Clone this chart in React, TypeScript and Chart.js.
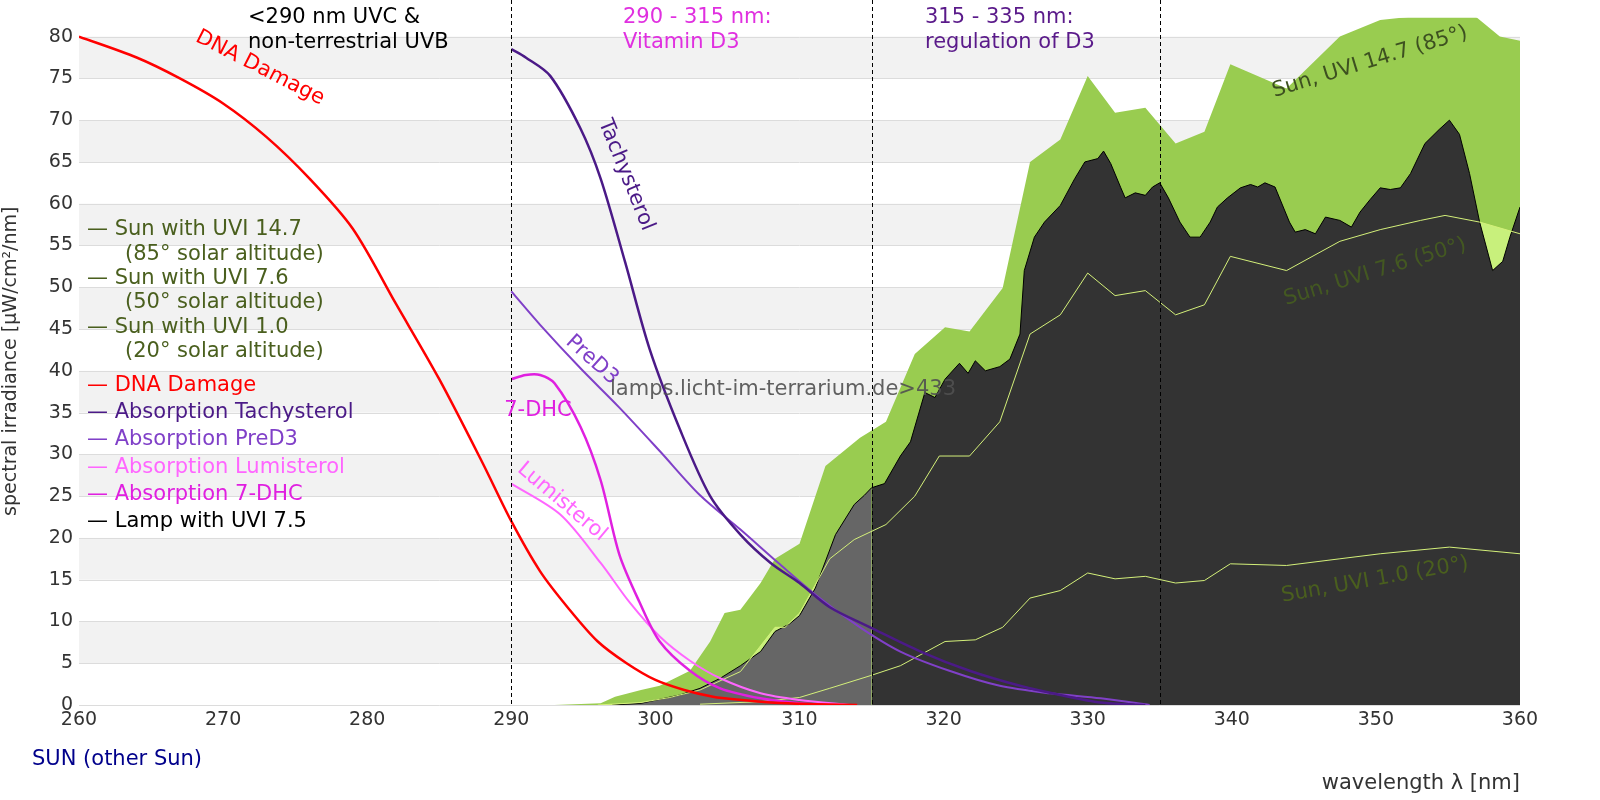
import React, { useEffect, useRef } from "react";
import { Chart, registerables } from "chart.js";
Chart.register(...registerables);

const dnaX = [260,264,267,270,273,276,279,282,285,288,290,292,294,296,298,300,302,304,306,308,310,312,314];
const dnaY = [80,77.5,75,72,68,63,57,48,39,29,22,16,11.5,7.6,5,3,1.8,1,0.6,0.3,0.15,0.05,0];
const tachX = [290,291,292.7,294.8,296.2,297.9,299.6,301.7,303.8,305.9,308,310,312.1,314.9,318.4,321.8,325.3,328.1,330.9,334];
const tachY = [78.5,77.5,75.3,69,63,53,42.6,33,25,20.4,17,14.6,11.7,9.3,6.4,4.1,2.3,1.2,0.3,0];
const preX = [290,292,294.8,297.5,300.3,303.1,305.9,308.6,311.4,314.2,317,320.4,323.9,327.4,330.9,334.3];
const preY = [49.5,45.5,40.3,35.6,30.4,25.1,21,16.9,12.8,9.3,6.4,4.1,2.3,1.4,0.8,0];
const dhcX = [290,291,292,293,294.8,296.2,297.5,298.9,300.3,302.4,304.5,307.3,310,311.5];
const dhcY = [39,39.5,39.5,38.5,33.3,26.9,18,12.3,7.6,4.1,2,0.8,0.2,0];
const lumiX = [290,293.4,296.2,298.2,300.3,302.4,304.5,307.3,310,313.5];
const lumiY = [26.5,22.8,17,12.3,8.2,5.3,3.2,1.4,0.6,0];
const sun147X = [293,296.2,297.2,299,300.3,302.4,303.8,304.8,305.9,307.3,308.3,310,311.8,314.2,316,318,320.1,321.8,324.1,326,328.1,330,331.9,334,336.1,338.1,339.9,343.8,347.5,350.3,353.1,355.8,358.6,360];
const sun147Y = [0,0.2,1,1.8,2.3,4.1,7.6,11,11.4,14.6,17.5,19.3,28.6,32,33.9,42,45.2,44.7,49.9,65,67.7,75.3,70.9,71.5,67.2,68.6,76.7,73.8,80,82,82.5,84,80,79.5];
const sun76X = [296,299,301,303.1,305.9,308.3,309,310,312.1,313.8,316,318,319.7,321.8,323.9,326,328.1,330,331.9,334,336.1,338.1,339.9,343.8,347.5,350.3,353.1,354.8,357.2,360];
const sun76Y = [0,0.3,0.9,1.8,4,9.3,9.3,11,17.5,19.8,21.6,25,29.8,29.8,33.9,44.4,46.7,51.7,49,49.6,46.7,47.9,53.7,52,55.5,56.9,58,58.6,57.8,56.4];
const sun10X = [303.1,307.3,310,312.1,314.9,317,320.1,322.2,324.1,326,328.1,330,331.9,334,336.1,338.1,339.9,343.8,347.5,350.3,355.1,360];
const sun10Y = [0.1,0.4,0.9,2,3.5,4.7,7.6,7.8,9.3,12.8,13.7,15.8,15.1,15.4,14.6,14.9,16.9,16.7,17.5,18.1,18.9,18.1];
const lampX = [297,299,301.7,303.1,304.5,305.9,307.3,308.3,309.3,310,311.1,312.5,313.8,314.5,315,315.9,317,317.7,318.7,319.4,320.1,321.1,321.7,322.2,322.9,323.9,324.6,325.3,325.6,326.3,327,328.1,329.1,329.8,330.7,331.1,331.6,332.3,332.6,333.3,334,334.5,335,335.6,336.4,337.1,337.8,338.5,339,339.7,340.6,341.3,341.8,342.3,343,344,344.4,345.1,345.8,346.5,347.5,348.3,348.9,349.6,350.3,351,351.7,352.4,353.4,354.4,355.1,355.8,356.5,357.2,358.1,358.8,359.3,360];
const lampY = [0,0.2,1.2,2,3.2,4.7,6.4,8.8,9.7,10.7,14,20.4,24,25.1,26,26.5,29.8,31.5,37.4,36.8,39,40.9,39.7,41.2,40,40.5,41.4,44.4,52,56,57.8,59.8,63,65,65.4,66.3,64.8,61.9,60.7,61.3,61,62,62.5,60.7,57.8,56,56,57.8,59.6,60.7,61.9,62.3,62,62.5,62,57.8,56.6,56.9,56.4,58.4,58,57.2,59,60.5,61.9,61.7,61.9,63.6,67.2,68.9,70,68.3,63.6,57.8,52,53.1,56,59.6];
const yTicks = [0,5,10,15,20,25,30,35,40,45,50,55,60,65,70,75,80];

const pts = (xs: number[], ys: number[]) => xs.map((x, i) => ({ x, y: ys[i] }));
const FONT = "'DejaVu Sans', sans-serif";

export default function App() {
  const ref = useRef<HTMLCanvasElement>(null);
  useEffect(() => {
    const lampAll = pts(lampX, lampY);
    const line = (data: any, color: string, w: number, order: number) => ({ data, borderColor: color, borderWidth: w, fill: false, pointRadius: 0, tension: 0.3, order });
    const area = (data: any, color: string, order: number) => ({ data, backgroundColor: color, borderWidth: 0, borderColor: "transparent", fill: "origin", pointRadius: 0, tension: 0, order });
    const deco = {
      id: "deco",
      beforeDatasetsDraw(c: any) {
        const { ctx, chartArea: a, scales } = c;
        const y = scales.y;
        ctx.save();
        for (let v = 5; v < 80; v += 10) {
          ctx.fillStyle = "#f2f2f2";
          ctx.fillRect(a.left, y.getPixelForValue(v + 5), a.right - a.left, y.getPixelForValue(v) - y.getPixelForValue(v + 5));
        }
        ctx.strokeStyle = "#dcdcdc"; ctx.lineWidth = 1;
        for (const v of yTicks) { const p = Math.round(y.getPixelForValue(v)) + 0.5; ctx.beginPath(); ctx.moveTo(a.left, p); ctx.lineTo(a.right, p); ctx.stroke(); }
        ctx.restore();
      },
      afterDatasetsDraw(c: any) {
        const { ctx, chartArea: a, scales } = c;
        const x = scales.x, y = scales.y;
        ctx.save();
        ctx.strokeStyle = "#000"; ctx.lineWidth = 1; ctx.setLineDash([4, 3]);
        for (const v of [290, 315, 335]) { const p = Math.round(x.getPixelForValue(v)) + 0.5; ctx.beginPath(); ctx.moveTo(p, 0); ctx.lineTo(p, a.bottom); ctx.stroke(); }
        ctx.setLineDash([]);
        const t = (s: string, px: number, py: number, col: string, size = 21, rot = 0, align: CanvasTextAlign = "left") => {
          ctx.save(); ctx.translate(px, py); ctx.rotate(rot * Math.PI / 180);
          ctx.font = `${size}px ${FONT}`; ctx.fillStyle = col; ctx.textAlign = align; ctx.textBaseline = "middle";
          ctx.fillText(s, 0, 0); ctx.restore();
        };
        t("<290 nm UVC &", 248, 18, "#000"); t("non-terrestrial UVB", 248, 43, "#000");
        t("290 - 315 nm:", 623, 18, "#e030e0"); t("Vitamin D3", 623, 43, "#e030e0");
        t("315 - 335 nm:", 925, 18, "#5a1a8a"); t("regulation of D3", 925, 43, "#5a1a8a");
        const sc = "#4a5f1e";
        const leg: [string, number, number, string][] = [
          ["— Sun with UVI 14.7", 87, 230, sc], ["(85° solar altitude)", 125, 255, sc],
          ["— Sun with UVI 7.6", 87, 279, sc], ["(50° solar altitude)", 125, 303, sc],
          ["— Sun with UVI 1.0", 87, 328, sc], ["(20° solar altitude)", 125, 352, sc],
          ["— DNA Damage", 87, 386, "#ff0000"], ["— Absorption Tachysterol", 87, 413, "#4b1a87"],
          ["— Absorption PreD3", 87, 440, "#8040c8"], ["— Absorption Lumisterol", 87, 468, "#ff66ff"],
          ["— Absorption 7-DHC", 87, 495, "#e020e0"], ["— Lamp with UVI 7.5", 87, 522, "#000"],
        ];
        leg.forEach(([s, px, py, col]) => t(s, px, py, col));
        t("DNA Damage", 260, 68, "#ff0000", 21, 27, "center");
        t("Tachysterol", 626, 175, "#4b1a87", 21, 68, "center");
        t("PreD3", 592, 360, "#8040c8", 21, 42, "center");
        t("7-DHC", 538, 411, "#e020e0", 21, 0, "center");
        t("Lumisterol", 562, 502, "#ff66ff", 21, 40, "center");
        t("lamps.licht-im-terrarium.de>433", 783, 390, "rgba(80,80,80,0.9)", 21, 0, "center");
        t("Sun, UVI 14.7 (85°)", 1370, 62, "#3d5020", 21, -17, "center");
        t("Sun, UVI 7.6 (50°)", 1375, 272, "rgba(70,95,30,0.85)", 21, -17, "center");
        t("Sun, UVI 1.0 (20°)", 1375, 580, "#4a5f1e", 21, -10, "center");
        t("SUN (other Sun)", 32, 760, "#00008b", 21);
        ctx.restore();
      },
    };
    const chart = new Chart(ref.current!, {
      type: "line",
      data: {
        datasets: [
          area(pts(sun147X, sun147Y), "#99cc50", 20),
          area(pts(sun76X, sun76Y), "#c8f07c", 19),
          area(pts(sun10X, sun10Y), "#c8f07c", 18),
          area(lampAll.filter(p => p.x <= 315), "#666666", 17),
          area(lampAll.filter(p => p.x >= 315), "#333333", 16),
          { ...line(lampAll, "#000", 1, 15), tension: 0 },
          { ...line(pts(sun76X, sun76Y), "#d4f07a", 1, 14), tension: 0 },
          { ...line(pts(sun10X, sun10Y), "#d4f07a", 1, 13), tension: 0 },
          line(pts(lumiX, lumiY), "#ff66ff", 2, 5),
          line(pts(preX, preY), "#8040c8", 2, 4),
          line(pts(dhcX, dhcY), "#e020e0", 2.5, 3),
          line(pts(tachX, tachY), "#4b1a87", 2.5, 2),
          line(pts(dnaX, dnaY), "#ff0000", 2.5, 1),
        ] as any,
      },
      options: {
        animation: false, responsive: false, maintainAspectRatio: false,
        layout: { padding: { left: 0, top: 0, right: 80, bottom: 0 } },
        plugins: { legend: { display: false }, tooltip: { enabled: false } },
        scales: {
          x: {
            type: "linear", min: 260, max: 360,
            ticks: { stepSize: 10, font: { family: FONT, size: 19 }, color: "#333", padding: 4 },
            grid: { display: false, drawTicks: false }, border: { display: false },
            title: { display: true, text: "wavelength λ [nm]", align: "end", font: { family: FONT, size: 21 }, color: "#333", padding: { top: 4 } },
            afterFit: (s: any) => { s.height = 95; },
          },
          y: {
            min: 0, max: 82.3,
            afterBuildTicks: (s: any) => { s.ticks = yTicks.map(v => ({ value: v })); },
            ticks: { font: { family: FONT, size: 19 }, color: "#333", padding: 6 },
            grid: { display: false, drawTicks: false }, border: { display: false },
            title: { display: true, text: "spectral irradiance [µW/cm²/nm]", font: { family: FONT, size: 19 }, color: "#333", padding: 0 },
            afterFit: (s: any) => { s.width = 79; },
          },
        },
      } as any,
      plugins: [deco],
    });
    return () => chart.destroy();
  }, []);
  return (
    <div style={{ position: "fixed", left: 0, top: 0, width: 1600, height: 800, background: "#fff" }}>
      <canvas ref={ref} width={1600} height={800} style={{ width: 1600, height: 800 }} />
    </div>
  );
}
